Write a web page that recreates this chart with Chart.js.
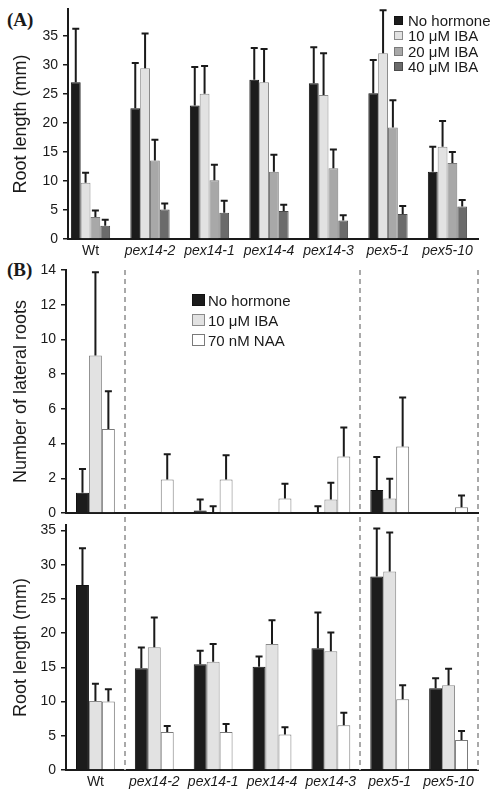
<!DOCTYPE html>
<html>
<head>
<meta charset="utf-8">
<script src="https://cdn.jsdelivr.net/npm/chart.js@4.4.0/dist/chart.umd.min.js"></script>
<style>
  body { margin: 0; background: #fff; width: 501px; height: 800px; position: relative; overflow: hidden;
         font-family: "Liberation Sans", Arial, sans-serif; color: #1a1a1a; }
  canvas { position: absolute; left: 0; }
  .panel { position: absolute; font-family: "Liberation Serif", "Times New Roman", serif; font-weight: bold; font-size: 19px; }
  .legend { position: absolute; font-size: 15px; }
  .legend .row { display: flex; align-items: center; white-space: nowrap; }
  .legend .box { display: inline-block; box-sizing: border-box; border: 1px solid #777; }
</style>
</head>
<body>
<div class="panel" style="left:7px;top:9px">(A)</div>
<div class="panel" style="left:7px;top:259px">(B)</div>
<canvas id="rootIBA" width="501" height="262" style="top:0"></canvas>
<canvas id="lateral" width="501" height="259" style="top:262px"></canvas>
<canvas id="rootNAA" width="501" height="283" style="top:517px"></canvas>
<div class="legend" id="legendA" style="left:394px;top:13px"></div>
<div class="legend" id="legendB" style="left:192px;top:290px"></div>
<script>
const genotypes = ['Wt', 'pex14-2', 'pex14-1', 'pex14-4', 'pex14-3', 'pex5-1', 'pex5-10'];

// (A) root length (mm) on IBA
const seriesA = ['No hormone', '10 μM IBA', '20 μM IBA', '40 μM IBA'];
const rootNone = [27.0, 22.5, 23.0, 27.4, 26.8, 25.1, 11.6];
const rootNoneSd = [9.2, 7.8, 6.6, 5.5, 6.2, 5.7, 4.3];
const rootIba10 = [9.7, 29.4, 25.0, 27.0, 24.8, 32.0, 15.9];
const rootIba10Sd = [1.7, 6.0, 4.8, 5.7, 7.2, 7.4, 4.4];
const rootIba20 = [3.8, 13.5, 10.1, 11.6, 12.2, 19.2, 13.1];
const rootIba20Sd = [1.1, 3.6, 2.7, 2.9, 3.2, 4.7, 1.9];
const rootIba40 = [2.3, 5.1, 4.5, 4.8, 3.2, 4.3, 5.6];
const rootIba40Sd = [1.0, 1.0, 2.1, 1.1, 0.9, 1.4, 1.1];

// (B) lateral roots and root length on IBA / NAA
const seriesB = ['No hormone', '10 μM IBA', '70 nM NAA'];
const latNone = [1.17, 0, 0.15, 0, 0.05, 1.32, 0];
const latNoneSd = [1.36, 0, 0.63, 0, 0.34, 1.91, 0];
const latIba = [9.08, 0, 0.05, 0, 0.78, 0.84, 0];
const latIbaSd = [4.79, 0, 0.34, 0, 0.97, 1.13, 0];
const latNaa = [4.84, 1.93, 1.93, 0.84, 3.25, 3.83, 0.33];
const latNaaSd = [2.18, 1.45, 1.39, 0.85, 1.67, 2.82, 0.68];
const lenNone = [27.05, 14.87, 15.45, 15.1, 17.8, 28.27, 11.95];
const lenNoneSd = [5.35, 3.03, 1.99, 1.5, 5.2, 7.03, 1.45];
const lenIba = [10.1, 17.94, 15.8, 18.4, 17.36, 29.0, 12.4];
const lenIbaSd = [2.5, 4.36, 2.6, 3.5, 2.74, 5.7, 2.4];
const lenNaa = [10.0, 5.56, 5.56, 5.17, 6.53, 10.34, 4.39];
const lenNaaSd = [1.8, 0.87, 1.17, 1.07, 1.85, 2.06, 1.31];

// group boundaries marked by dashed lines in (B)
const dividers = [0.5, 4.5, 6.5];

const fills = { none: '#1c1c1c', iba10: '#e2e2e2', iba20: '#a8a8a8', iba40: '#6b6b6b', naa: '#ffffff' };
const edges = { none: '#111111', iba10: '#8a8a8a', iba20: '#7a7a7a', iba40: '#4a4a4a', naa: '#7a7a7a' };

Chart.defaults.font.family = '"Liberation Sans", Arial, sans-serif';
Chart.defaults.color = '#1a1a1a';

const errorBars = {
  id: 'errorBars',
  afterDatasetsDraw(chart) {
    const { ctx, scales: { y } } = chart;
    ctx.save();
    ctx.strokeStyle = '#1a1a1a';
    ctx.lineWidth = 2;
    chart.data.datasets.forEach((ds, i) => {
      chart.getDatasetMeta(i).data.forEach((bar, j) => {
        const sd = ds.errors[j];
        if (!sd) return;
        const top = y.getPixelForValue(ds.data[j] + sd);
        ctx.beginPath();
        ctx.moveTo(bar.x, bar.y);
        ctx.lineTo(bar.x, top);
        ctx.moveTo(bar.x - 3.5, top);
        ctx.lineTo(bar.x + 3.5, top);
        ctx.stroke();
      });
    });
    ctx.restore();
  }
};

const dividerLines = {
  id: 'dividers',
  afterDraw(chart, args, opts) {
    const { ctx, chartArea, scales: { x } } = chart;
    ctx.save();
    ctx.strokeStyle = '#a9a9a9';
    ctx.lineWidth = 2;
    ctx.setLineDash([5, 4]);
    dividers.forEach(v => {
      const px = Math.round(x.getPixelForValue(v));
      ctx.beginPath();
      ctx.moveTo(px, opts.top !== undefined ? opts.top : chartArea.top);
      ctx.lineTo(px, chartArea.bottom);
      ctx.stroke();
    });
    ctx.restore();
  }
};

function bars(label, data, errors, key) {
  return { label, data, errors, backgroundColor: fills[key], borderColor: edges[key], borderWidth: 1 };
}

function makeChart(id, datasets, cfg) {
  return new Chart(document.getElementById(id), {
    type: 'bar',
    data: { labels: genotypes.map((g, i) => i), datasets },
    plugins: cfg.plugins,
    options: {
      responsive: false,
      animation: false,
      datasets: { bar: { barPercentage: 1, categoryPercentage: 0.66 } },
      layout: { padding: { top: cfg.padTop, right: 23, bottom: 0, left: 0 } },
      plugins: { legend: { display: false }, tooltip: { enabled: false }, dividers: cfg.dividers || {} },
      scales: {
        x: {
          type: 'linear', offset: false, min: cfg.xMin, max: cfg.xMax,
          grid: { display: false, drawTicks: false },
          border: { color: '#1a1a1a', width: 2 },
          afterBuildTicks: s => { s.ticks = genotypes.map((g, i) => ({ value: i })); },
          ticks: {
            display: cfg.showX, autoSkip: false, maxRotation: 0, padding: 4, color: '#1a1a1a',
            callback: v => genotypes[v],
            font: c => ({ size: 14, style: c.index === 0 ? 'normal' : 'italic' })
          },
          afterFit: s => { s.height = cfg.xHeight; }
        },
        y: {
          min: 0, max: cfg.yMax,
          grid: { drawOnChartArea: false, drawTicks: true, tickLength: 5, color: '#1a1a1a', lineWidth: 1.5 },
          border: { color: '#1a1a1a', width: 2 },
          ticks: { stepSize: cfg.step, includeBounds: false, padding: 5, color: '#1a1a1a', font: { size: 14 } },
          title: { display: true, text: cfg.yTitle, color: '#1a1a1a', font: { size: 18 }, padding: { top: 10, bottom: 0 } },
          afterFit: s => { s.width = cfg.yWidth; s.paddingTop = 0; s.paddingBottom = 0; }
        }
      }
    }
  });
}

makeChart('rootIBA', [
  bars(seriesA[0], rootNone, rootNoneSd, 'none'),
  bars(seriesA[1], rootIba10, rootIba10Sd, 'iba10'),
  bars(seriesA[2], rootIba20, rootIba20Sd, 'iba20'),
  bars(seriesA[3], rootIba40, rootIba40Sd, 'iba40')
], { plugins: [errorBars], padTop: 9, xMin: -0.378, xMax: 6.513, showX: true, xHeight: 23,
     yMax: 39.6, step: 5, yTitle: 'Root length (mm)', yWidth: 68 });

makeChart('lateral', [
  bars(seriesB[0], latNone, latNoneSd, 'none'),
  bars(seriesB[1], latIba, latIbaSd, 'iba10'),
  bars(seriesB[2], latNaa, latNaaSd, 'naa')
], { plugins: [errorBars, dividerLines], padTop: 8, xMin: -0.5, xMax: 6.5, showX: false, xHeight: 8,
     yMax: 14, step: 2, yTitle: 'Number of lateral roots', yWidth: 66 });

makeChart('rootNAA', [
  bars(seriesB[0], lenNone, lenNoneSd, 'none'),
  bars(seriesB[1], lenIba, lenIbaSd, 'iba10'),
  bars(seriesB[2], lenNaa, lenNaaSd, 'naa')
], { plugins: [errorBars, dividerLines], dividers: { top: 0 }, padTop: 8, xMin: -0.5, xMax: 6.5, showX: true, xHeight: 30,
     yMax: 35.8, step: 5, yTitle: 'Root length (mm)', yWidth: 66 });

function buildLegend(id, labels, keys, box, rowH, gap) {
  const el = document.getElementById(id);
  labels.forEach((label, i) => {
    const row = document.createElement('div');
    row.className = 'row';
    row.style.height = rowH + 'px';
    const sw = document.createElement('span');
    sw.className = 'box';
    sw.style.width = box[0] + 'px';
    sw.style.height = box[1] + 'px';
    sw.style.marginRight = gap + 'px';
    sw.style.background = fills[keys[i]];
    sw.style.borderColor = edges[keys[i]];
    row.appendChild(sw);
    row.appendChild(document.createTextNode(label));
    el.appendChild(row);
  });
}
buildLegend('legendA', seriesA, ['none', 'iba10', 'iba20', 'iba40'], [9, 9], 15.3, 5);
buildLegend('legendB', seriesB, ['none', 'iba10', 'naa'], [13, 12], 20, 3);
</script>
</body>
</html>
